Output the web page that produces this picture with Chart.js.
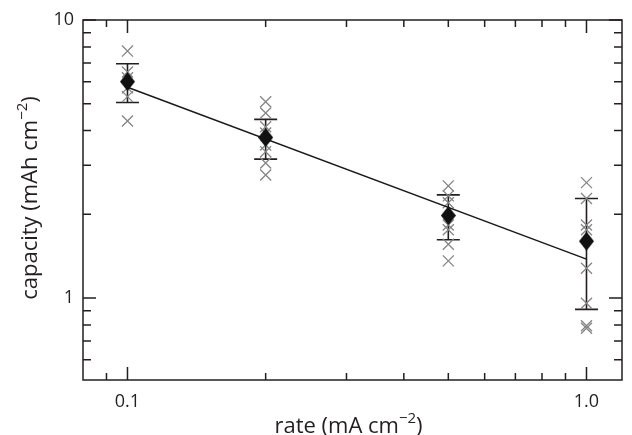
<!DOCTYPE html>
<html lang="en">
  <head>
    <meta charset="UTF-8" />
    <title>capacity vs rate</title>
    <style>
      html, body { margin: 0; padding: 0; background: #fff; }
      canvas { display: block; }
    </style>
  </head>
  <body>
    <canvas id="myChart" width="632" height="435"></canvas>

    <script src="https://cdn.jsdelivr.net/npm/chart.js"></script>
    <script>
      // values
      const rates = [0.1, 0.2, 0.5, 1.0];
      const meanCapacity = [6.0, 3.78, 1.98, 1.6];
      const errUpper = [6.96, 4.39, 2.35, 2.28];
      const errLower = [5.05, 3.16, 1.62, 0.91];

      // individual cells at each rate
      const cells01 = [7.73, 6.5, 6.2, 5.7, 5.3, 4.33];
      const cells02 = [5.08, 4.63, 4.13, 3.92, 3.55, 3.36, 3.06, 2.77];
      const cells05 = [2.53, 2.33, 2.2, 1.83, 1.76, 1.56, 1.36];
      const cells10 = [2.6, 2.28, 1.83, 1.76, 1.28, 0.957, 0.795, 0.778];

      // power-law fit line
      const fitRates = [0.1, 1.0];
      const fitCapacity = [5.73, 1.38];

      const xTicks = [0.1, 1.0];
      const xTickLabels = ["0.1", "1.0"];
      const xMinor = [0.09, 0.2, 0.3, 0.4, 0.5, 0.6, 0.7, 0.8, 0.9];
      const yTicks = [1, 10];
      const yTickLabels = ["1", "10"];
      const yMinor = [0.6, 0.7, 0.8, 0.9, 2, 3, 4, 5, 6, 7, 8, 9];

      const ink = "#231f20";
      const fontFamily = "'Open Sans', sans-serif";

      const cellGroups = [cells01, cells02, cells05, cells10];
      const cellPoints = [];
      cellGroups.forEach((group, i) => {
        group.forEach((v) => cellPoints.push({ x: rates[i], y: v }));
      });

      function makeDiamond(w, h, color) {
        const c = document.createElement("canvas");
        c.width = w;
        c.height = h;
        const g = c.getContext("2d");
        g.fillStyle = color;
        g.beginPath();
        g.moveTo(w / 2, 0);
        g.lineTo(w, h / 2);
        g.lineTo(w / 2, h);
        g.lineTo(0, h / 2);
        g.closePath();
        g.fill();
        return c;
      }

      // title with a superscript part, centred at (cx, baseline)
      function supTitle(ctx, main, sup, tail, cx, baseline, size) {
        const mainFont = size + "px " + fontFamily;
        const supFont = Math.round(size * 0.68) + "px " + fontFamily;
        ctx.font = mainFont;
        const w1 = ctx.measureText(main).width;
        const w3 = ctx.measureText(tail).width;
        ctx.font = supFont;
        const w2 = ctx.measureText(sup).width;
        let x = cx - (w1 + w2 + w3) / 2;
        ctx.textAlign = "left";
        ctx.textBaseline = "alphabetic";
        ctx.font = mainFont;
        ctx.fillText(main, x, baseline);
        x += w1;
        ctx.font = supFont;
        ctx.fillText(sup, x, baseline - size * 0.45);
        x += w2;
        ctx.font = mainFont;
        ctx.fillText(tail, x, baseline);
      }

      const framePlugin = {
        id: "frame",
        beforeDatasetsDraw(chart) {
          const ctx = chart.ctx;
          const xs = chart.scales.x;
          const ys = chart.scales.y;
          ctx.save();
          ctx.strokeStyle = ink;
          ctx.lineWidth = 1.6;
          rates.forEach((r, i) => {
            const px = xs.getPixelForValue(r);
            const top = ys.getPixelForValue(errUpper[i]);
            const bot = ys.getPixelForValue(errLower[i]);
            ctx.beginPath();
            ctx.moveTo(px, top);
            ctx.lineTo(px, bot);
            ctx.moveTo(px - 11.5, top);
            ctx.lineTo(px + 11.5, top);
            ctx.moveTo(px - 11.5, bot);
            ctx.lineTo(px + 11.5, bot);
            ctx.stroke();
          });
          ctx.restore();
        },
        afterDraw(chart) {
          const ctx = chart.ctx;
          const a = chart.chartArea;
          const xs = chart.scales.x;
          const ys = chart.scales.y;
          ctx.save();
          ctx.strokeStyle = ink;
          ctx.lineWidth = 1.5;
          ctx.strokeRect(a.left, a.top, a.right - a.left, a.bottom - a.top);

          ctx.beginPath();
          const xMark = (v, len) => {
            const px = xs.getPixelForValue(v);
            ctx.moveTo(px, a.bottom);
            ctx.lineTo(px, a.bottom - len);
            ctx.moveTo(px, a.top);
            ctx.lineTo(px, a.top + len);
          };
          const yMark = (v, len) => {
            const py = ys.getPixelForValue(v);
            ctx.moveTo(a.left, py);
            ctx.lineTo(a.left + len, py);
            ctx.moveTo(a.right, py);
            ctx.lineTo(a.right - len, py);
          };
          xTicks.forEach((v) => xMark(v, 13));
          xMinor.forEach((v) => xMark(v, 7));
          yTicks.forEach((v) => yMark(v, 13));
          yMinor.forEach((v) => yMark(v, 8));
          ctx.stroke();

          ctx.fillStyle = ink;
          supTitle(ctx, "rate (mA cm", "\u22122", ")", (a.left + a.right) / 2 - 4, 433, 22);
          ctx.translate(37, (a.top + a.bottom) / 2 - 2);
          ctx.rotate(-Math.PI / 2);
          supTitle(ctx, "capacity (mAh cm", "\u22122", ")", 0, 0, 22);
          ctx.restore();
        },
      };

      const ctx = document.getElementById("myChart").getContext("2d");
      new Chart(ctx, {
        type: "scatter",
        data: {
          datasets: [
            {
              label: "mean",
              data: rates.map((r, i) => ({ x: r, y: meanCapacity[i] })),
              pointStyle: makeDiamond(15, 19, "#111"),
              pointRadius: 9,
              order: 0,
            },
            {
              label: "fit",
              type: "line",
              data: fitRates.map((r, i) => ({ x: r, y: fitCapacity[i] })),
              borderColor: "#1a1a1a",
              borderWidth: 1.5,
              pointRadius: 0,
              fill: false,
              tension: 0,
              order: 1,
            },
            {
              label: "cells",
              data: cellPoints,
              pointStyle: "crossRot",
              pointRadius: 7.8,
              borderColor: "#858585",
              borderWidth: 1.3,
              order: 2,
            },
          ],
        },
        options: {
          responsive: false,
          animation: false,
          devicePixelRatio: 1,
          layout: { padding: { top: 20, right: 1, left: 0, bottom: 0 } },
          plugins: { legend: { display: false }, tooltip: { enabled: false } },
          scales: {
            x: {
              type: "logarithmic",
              position: "bottom",
              min: 0.08,
              max: 1.195,
              grid: { display: false, drawTicks: false },
              border: { display: false },
              afterBuildTicks: (s) => {
                s.ticks = xTicks.map((v) => ({ value: v }));
              },
              afterFit: (s) => {
                s.height = 55;
              },
              ticks: {
                autoSkip: false,
                maxRotation: 0,
                padding: 11,
                color: ink,
                font: { family: fontFamily, size: 18 },
                callback: (v, i) => xTickLabels[i],
              },
            },
            y: {
              type: "logarithmic",
              min: 0.507,
              max: 10,
              grid: { display: false, drawTicks: false },
              border: { display: false },
              afterBuildTicks: (s) => {
                s.ticks = yTicks.map((v) => ({ value: v }));
              },
              afterFit: (s) => {
                s.width = 83;
              },
              ticks: {
                autoSkip: false,
                padding: 9,
                color: ink,
                font: { family: fontFamily, size: 18 },
                callback: (v, i) => yTickLabels[i],
              },
            },
          },
        },
        plugins: [framePlugin],
      });
    </script>
  </body>
</html>
